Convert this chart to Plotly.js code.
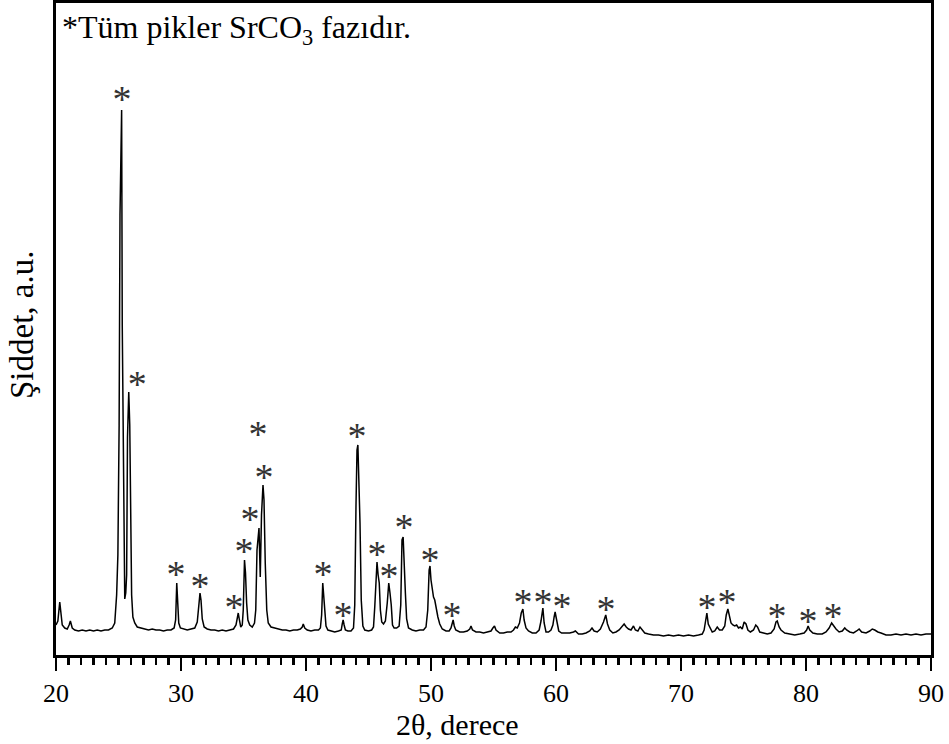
<!DOCTYPE html>
<html>
<head>
<meta charset="utf-8">
<script src="https://cdn.plot.ly/plotly-3.0.1.min.js"></script>
<style>html,body{margin:0;padding:0;background:#fff;}#chart{width:949px;height:744px;}</style>
</head>
<body>
<div id="chart"></div>
<script>
// XRD pattern (2θ in degrees, intensity in arbitrary units)
const twoTheta = [
20.0,20.15,20.3,20.4,20.5,20.7,20.9,21.05,21.15,21.3,21.5,21.8,22.1,22.4,22.7,23.0,23.3,23.6,23.9,24.2,
24.5,24.7,24.85,24.95,25.05,25.12,25.25,25.3,25.38,25.45,25.5,25.58,25.65,25.72,25.82,25.9,25.97,26.05,26.15,26.3,
26.5,26.8,27.1,27.4,27.7,28.0,28.3,28.6,28.9,29.2,29.45,29.57,29.66,29.74,29.82,29.95,30.2,30.5,30.8,31.1,
31.3,31.43,31.52,31.6,31.7,31.85,32.1,32.4,32.7,33.0,33.3,33.6,33.9,34.2,34.4,34.52,34.58,34.66,34.78,34.9,
34.98,35.08,35.16,35.25,35.35,35.5,35.7,35.88,35.98,36.08,36.18,36.24,36.34,36.44,36.56,36.64,36.74,36.86,36.98,37.2,
37.5,37.8,38.1,38.4,38.7,39.0,39.3,39.55,39.7,39.78,39.9,40.1,40.4,40.7,41.0,41.15,41.25,41.34,41.42,41.5,
41.6,41.75,42.0,42.3,42.6,42.82,42.9,42.97,43.05,43.15,43.35,43.6,43.8,43.9,44.0,44.08,44.15,44.23,44.32,44.42,
44.55,44.7,45.0,45.25,45.4,45.5,45.6,45.68,45.77,45.86,45.95,46.06,46.2,46.35,46.5,46.62,46.72,46.82,46.92,47.05,
47.25,47.45,47.58,47.68,47.77,47.86,47.95,48.05,48.2,48.5,48.8,49.1,49.4,49.6,49.74,49.85,49.92,50.0,50.1,50.2,
50.3,50.4,50.55,50.7,50.9,51.2,51.45,51.6,51.7,51.77,51.86,51.98,52.3,52.6,52.9,53.1,53.2,53.32,53.6,53.9,
54.2,54.5,54.8,54.95,55.08,55.2,55.5,55.8,56.1,56.4,56.6,56.75,56.9,57.08,57.22,57.35,57.45,57.6,57.8,58.1,
58.4,58.65,58.8,58.95,59.05,59.2,59.4,59.6,59.75,59.85,59.93,60.02,60.1,60.22,60.45,60.8,61.1,61.4,61.55,61.8,
62.1,62.4,62.7,62.88,63.05,63.3,63.55,63.8,63.98,64.12,64.3,64.55,64.8,65.05,65.25,65.45,65.62,65.8,66.0,66.2,
66.35,66.55,66.72,66.88,67.1,67.4,67.8,68.2,68.6,69.0,69.4,69.8,70.2,70.6,71.0,71.4,71.7,71.85,71.97,72.07,
72.18,72.32,72.5,72.7,72.9,73.08,73.3,73.5,73.62,73.75,73.88,74.0,74.15,74.3,74.45,74.6,74.75,74.9,75.05,75.2,
75.35,75.55,75.8,75.98,76.12,76.3,76.6,76.9,77.2,77.45,77.6,77.7,77.85,78.0,78.3,78.7,79.1,79.5,79.85,80.05,
80.17,80.3,80.55,80.9,81.3,81.6,81.85,82.05,82.2,82.4,82.65,82.9,83.1,83.25,83.5,83.8,84.05,84.25,84.45,84.8,
85.1,85.3,85.5,85.75,86.0,86.4,86.8,87.2,87.6,88.0,88.4,88.8,89.2,89.6,90.0
];
const intensity = [
30,34,53,40,30,27,26,30,34,27,25,24,25,24,25,24,25,24,25,25,
27,32,60,100,230,440,545,330,185,70,56,62,80,218,263,230,123,60,38,32,
28,27,26,25,26,25,25,24,25,25,27,35,72,57,32,27,26,25,26,27,
33,48,62,55,36,28,26,25,25,24,25,24,25,26,30,40,42,36,28,30,
45,95,82,52,35,30,28,32,45,105,125,127,78,140,170,155,92,45,32,28,
27,26,25,25,24,25,25,26,28,31,27,25,24,25,25,27,40,72,60,40,
29,25,24,23,24,25,31,35,30,25,24,24,27,50,150,205,210,180,132,55,
29,25,24,25,28,48,82,93,80,72,45,33,31,34,52,72,62,50,30,27,
27,29,50,115,118,82,62,36,27,25,24,25,25,28,45,85,89,75,67,58,
55,47,38,31,26,24,24,27,33,35,29,25,23,23,24,26,29,25,23,23,
22,23,24,27,29,25,22,22,23,23,25,28,27,32,42,46,35,27,24,22,
22,25,34,47,32,23,23,25,30,38,43,37,32,24,22,22,22,23,24,21,
21,22,24,27,24,23,26,33,40,31,25,22,23,25,28,31,28,26,25,29,
25,24,28,25,22,21,20,20,19,20,19,20,19,20,19,20,21,25,36,42,
31,27,23,24,28,25,25,29,40,46,38,32,30,29,30,27,28,26,33,31,
25,23,25,30,28,23,22,21,22,26,33,34,28,25,22,21,20,21,22,25,
29,25,22,21,21,23,27,32,29,26,23,24,27,25,23,22,24,26,23,22,
24,26,25,23,22,20,20,21,20,21,20,21,20,21,21
];
// Peak markers (asterisks) above each SrCO3 reflection
const starX = [25.28,26.5,29.6,31.52,34.24,35.04,35.52,36.16,36.64,41.36,42.96,44.08,45.68,46.64,47.84,49.92,51.68,57.36,58.96,60.48,64.0,72.08,73.68,77.68,80.16,82.16];
const starY = [553,268,78,66,45,101,133,218,175,78,37,216,98,76,125,92,37,50,50,46,43,45,50,36,31,36];
const starText = starX.map(() => '*');
const xTicks = [20,30,40,50,60,70,80,90];

const serif = 'Liberation Serif, Times New Roman, serif';

const traces = [
  {
    x: twoTheta, y: intensity, type: 'scatter', mode: 'lines',
    line: {color: '#000', width: 1.5}, hoverinfo: 'skip', showlegend: false
  },
  {
    x: starX, y: starY, type: 'scatter', mode: 'text', text: starText,
    textposition: 'middle center',
    textfont: {family: serif, size: 38, color: '#333'},
    hoverinfo: 'skip', showlegend: false
  }
];

const layout = {
  width: 949, height: 744,
  margin: {l: 56, r: 18, t: 3, b: 89},
  paper_bgcolor: '#fff', plot_bgcolor: '#fff',
  showlegend: false,
  title: {
    text: '*Tüm pikler SrCO<sub>3</sub> fazıdır.',
    x: 62/949, xanchor: 'left', xref: 'container',
    y: 1 - 27/744, yanchor: 'middle', yref: 'container',
    font: {family: serif, size: 32, color: '#000'}
  },
  xaxis: {
    range: [20, 90], tickvals: xTicks, ticktext: xTicks.map(String),
    ticks: 'outside', ticklen: 13, tickwidth: 2.5, tickcolor: '#000',
    minor: {dtick: 1, ticks: 'outside', ticklen: 7, tickwidth: 2.5, tickcolor: '#000', showgrid: false},
    showline: true, linewidth: 3, linecolor: '#000', mirror: true,
    showgrid: false, zeroline: false,
    tickfont: {family: serif, size: 26, color: '#000'}
  },
  yaxis: {
    range: [0, 652], showticklabels: false, ticks: '',
    showline: true, linewidth: 3, linecolor: '#000', mirror: true,
    showgrid: false, zeroline: false
  },
  annotations: [
    {text: '2θ, derece', xref: 'paper', yref: 'paper', x: (457-56)/875, y: (655-724)/652,
     xanchor: 'center', yanchor: 'middle', showarrow: false,
     font: {family: serif, size: 30, color: '#000'}},
    {text: 'Şiddet, a.u.', xref: 'paper', yref: 'paper', x: (22-56)/875, y: (655-325)/652,
     xanchor: 'center', yanchor: 'middle', textangle: -90, showarrow: false,
     font: {family: serif, size: 33, color: '#000'}}
  ]
};

Plotly.newPlot('chart', traces, layout, {displayModeBar: false, staticPlot: true});
</script>
</body>
</html>
